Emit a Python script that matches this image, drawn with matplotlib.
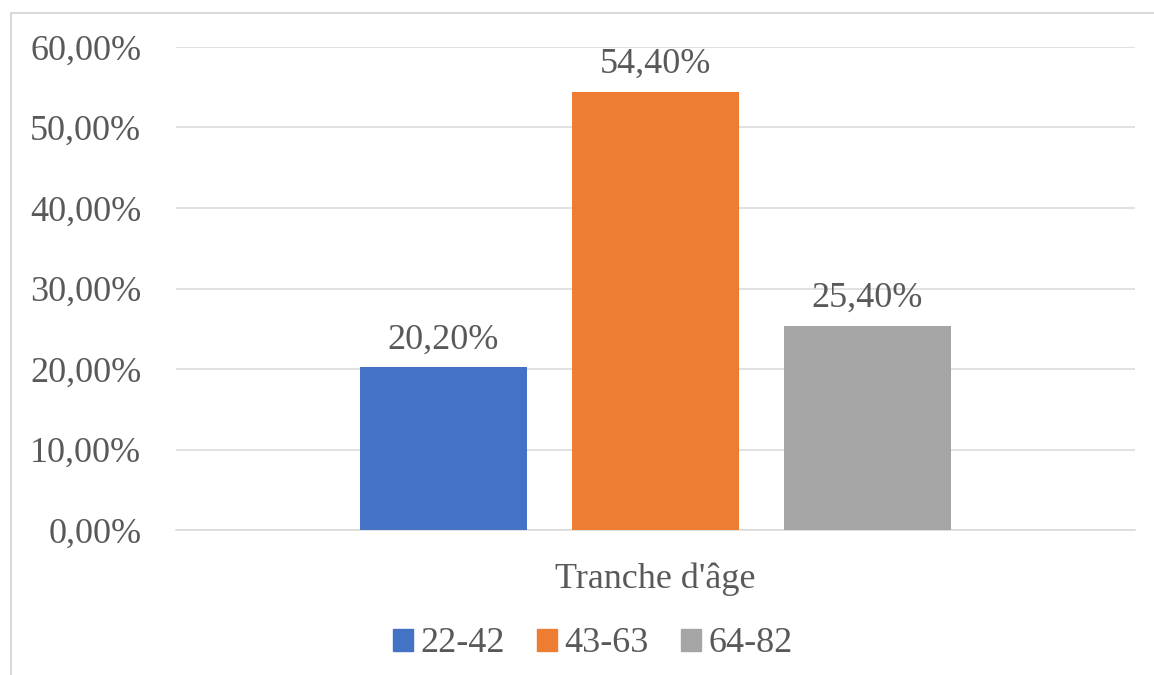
import matplotlib.pyplot as plt
from matplotlib.patches import Rectangle, Patch

categories = ['22-42', '43-63', '64-82']
values = [20.2, 54.4, 25.4]
colors = ['#4472C4', '#ED7D31', '#A5A5A5']
yticks = [0, 10, 20, 30, 40, 50, 60]
xlabel = "Tranche d'âge"

plt.rcParams['font.family'] = ['Liberation Serif', 'DejaVu Serif']
txt = '#595959'
grid = '#d9d9d9'


def fr(v):
    return f'{v:.2f}'.replace('.', ',') + '%'


fig = plt.figure(figsize=(11.54, 6.75), dpi=100)
fig.patches.append(Rectangle((11 / 1154, -0.05), 1.2, 1.05 - 13 / 675,
                             transform=fig.transFigure, fill=False,
                             edgecolor=grid, linewidth=1.5))
ax = fig.add_axes([176 / 1154, 1 - 530 / 675, 959 / 1154, 483 / 675])

x = list(range(len(categories)))
bars = ax.bar(x, values, width=167 / 212, color=colors, zorder=3)
ax.bar_label(bars, labels=[fr(v) for v in values], padding=8,
             fontsize=26, color=txt)

half = 959 / 212 / 2
ax.set_xlim(1 - half, 1 + half)
ax.set_ylim(0, 60)
ax.set_yticks(yticks)
ax.set_yticklabels([fr(v) for v in yticks], fontsize=26, color=txt)
ax.set_xticks([])
ax.tick_params(axis='y', length=0, pad=25)
ax.grid(axis='y', color=grid, linewidth=1.1, zorder=0)
for s in ['top', 'right', 'left']:
    ax.spines[s].set_visible(False)
ax.spines['bottom'].set_color(grid)
ax.spines['bottom'].set_linewidth(1.1)

fig.text(655 / 1154, 1 - 579 / 675, xlabel, ha='center', va='center',
         fontsize=26, color=txt)

handles = [Patch(color=c, label=l) for c, l in zip(colors, categories)]
fig.legend(handles=handles, loc='center', bbox_to_anchor=(593 / 1154, 1 - 644 / 675),
           ncol=3, frameon=False, fontsize=26, labelcolor=txt,
           handlelength=0.55, handleheight=0.55, handletextpad=0.2,
           columnspacing=0.9)

fig.savefig('out.png', dpi=100)
